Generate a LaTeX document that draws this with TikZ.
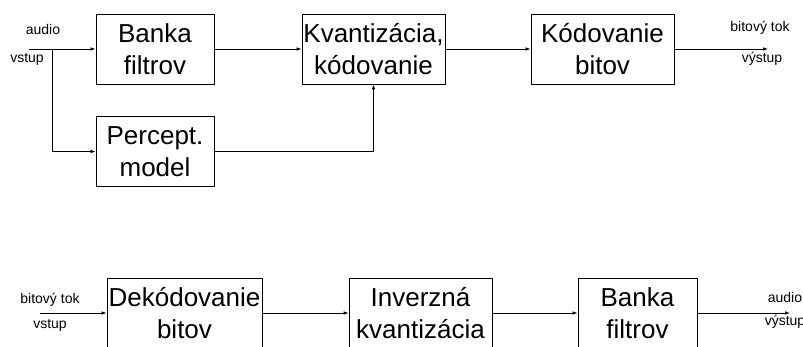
\documentclass[tikz,border=0pt]{standalone}
\usepackage{fontspec}
\setmainfont{Liberation Sans}
\usetikzlibrary{arrows.meta}

\begin{document}
\begin{tikzpicture}[x=1pt,y=-1pt,
		block/.style={draw, line width=0.8pt, minimum height=70pt, inner sep=0pt,
			align=center, font=\fontsize{26}{32}\selectfont},
		lbl/.style={anchor=base, inner sep=0pt, font=\fontsize{14}{16}\selectfont},
		sig/.style={-{Latex[length=5pt,width=3.5pt]}, line width=0.7pt}]
		\useasboundingbox (0,0) rectangle (803,347);
		\clip (0,0) rectangle (803,347);
		% Encoder
		\begin{scope}
			\node[block, minimum width=118pt] (bankenc) at (155,49) {Banka\\filtrov};
			\node[block, minimum width=143pt] (kvant) at (373.5,49) {Kvantizácia,\\kódovanie};
			\node[block, minimum width=143pt] (kodbit) at (602.5,49) {Kódovanie\\bitov};
			\node[block, minimum width=118pt] (percept) at (155,151.5) {Percept.\\model};
			\coordinate (encin) at (29,49);
			\coordinate (split) at (52,49);
			\coordinate (encout) at (768,49);
			\draw[sig] (encin) -- (bankenc.west);
			\draw[sig] (split) |- (percept.west);
			\draw[sig] (bankenc.east) -- (kvant.west);
			\draw[sig] (percept.east) -| (kvant.south);
			\draw[sig] (kvant.east) -- (kodbit.west);
			\draw[sig] (kodbit.east) -- (encout);
			\node[lbl] (encina) at (43,35) {audio};
			\node[lbl] (encinb) at (27,63) {vstup};
			\node[lbl] (encouta) at (760,32) {bitový tok};
			\node[lbl] (encoutb) at (762,63) {výstup};
		\end{scope}
		% Decoder
		\begin{scope}
			\node[block, minimum width=155pt] (dekod) at (184.5,313) {Dekódovanie\\bitov};
			\node[block, minimum width=143pt] (invkv) at (420.5,313) {Inverzná\\kvantizácia};
			\node[block, minimum width=119pt] (bankdec) at (637.5,313) {Banka\\filtrov};
			\coordinate (decin) at (40,313);
			\coordinate (decout) at (790,313);
			\draw[sig] (decin) -- (dekod.west);
			\draw[sig] (dekod.east) -- (invkv.west);
			\draw[sig] (invkv.east) -- (bankdec.west);
			\draw[sig] (bankdec.east) -- (decout);
			\node[lbl] (decina) at (50,304) {bitový tok};
			\node[lbl] (decinb) at (50,328) {vstup};
			\node[lbl] (decouta) at (785,302) {audio};
			\node[lbl] (decoutb) at (785,325) {výstup};
		\end{scope}
	\end{tikzpicture}
\end{document}
